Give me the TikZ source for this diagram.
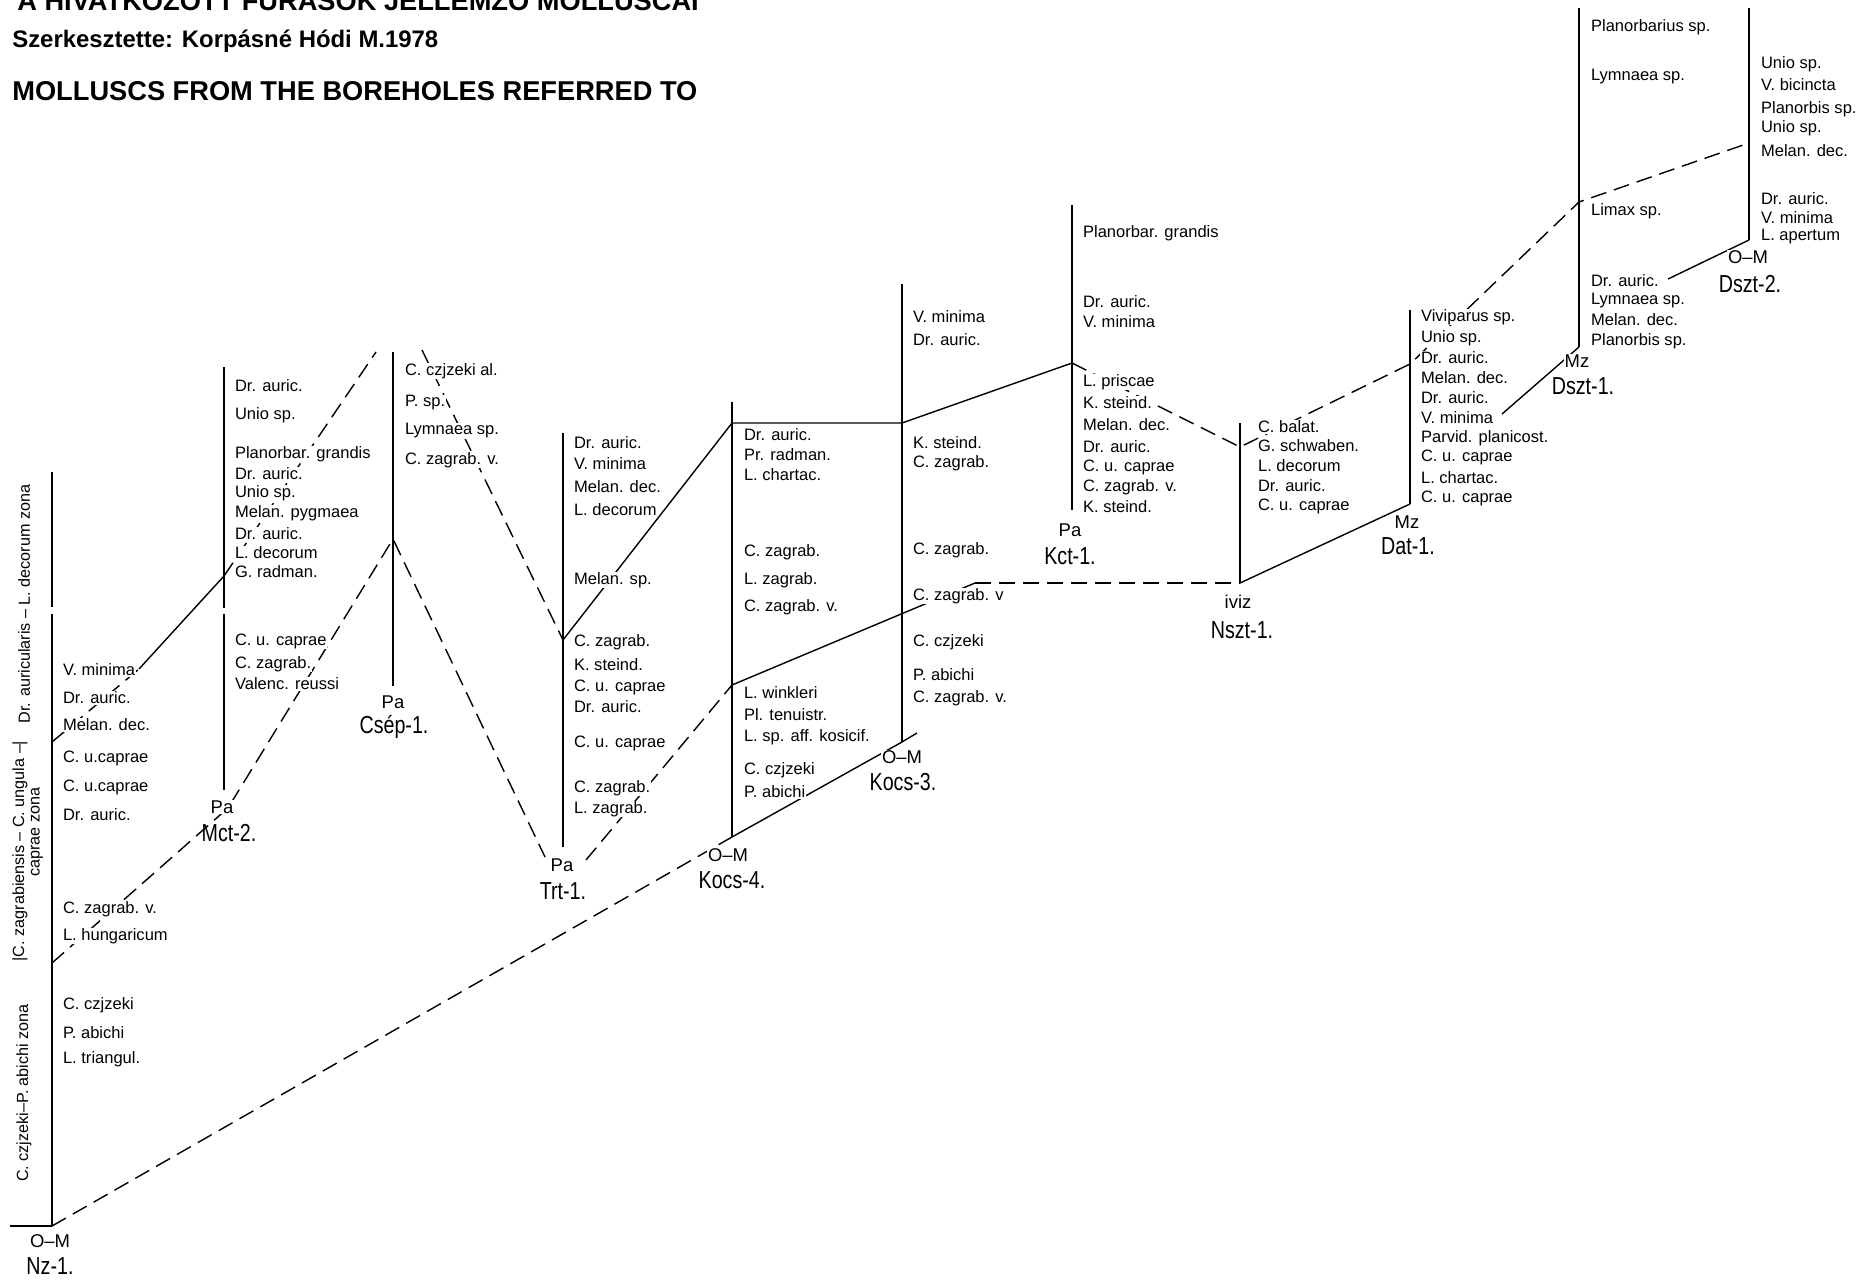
\documentclass[tikz,border=0pt]{standalone}
\usepackage{fontspec}
\setmainfont{Liberation Sans}
\newfontfamily\narrowfont[FakeStretch=0.8]{Liberation Sans}
\begin{document}
\begin{tikzpicture}[x=0.2mm,y=-0.2mm,
  bore/.style={line width=1.4pt},
  link/.style={line width=0.8pt},
  dlink/.style={line width=0.8pt,dash pattern=on 3.2mm off 1.6mm},
  taxon/.style={anchor=west,fill=white,inner sep=0.4pt,font=\fontsize{9.4}{10}\selectfont},
  stage/.style={fill=white,inner sep=0.4pt,font=\fontsize{10.5}{11}\selectfont},
  well/.style={inner sep=0.4pt,font=\narrowfont\fontsize{14}{15}\selectfont},
  zone/.style={rotate=90,inner sep=0pt,font=\fontsize{9.2}{10}\selectfont},
  title/.style={anchor=base west,inner sep=0pt,font=\bfseries\fontsize{15.5}{17}\selectfont}]
\fill[white] (0,0) rectangle (1858,1280);
\useasboundingbox (0,0) rectangle (1858,1280);

% headings
\node[title] (head1) at (17,10) {A HIVATKOZOTT FÚRÁSOK JELLEMZŐ MOLLUSCAI};
\node[title,font=\bfseries\fontsize{13.6}{14}\selectfont] (head2) at (12,47) {Szerkesztette: Korpásné Hódi M.1978};
\node[title] (head3) at (12,100) {MOLLUSCS FROM THE BOREHOLES REFERRED TO};

% borehole points
\coordinate (nz-top) at (52,472);
\coordinate (nz-g1) at (52,607);
\coordinate (nz-g2) at (52,614);
\coordinate (nz-bot) at (52,1226);
\coordinate (nz-b1) at (52,742);
\coordinate (nz-b2) at (52,963);
\coordinate (nz-vm) at (139,669);
\coordinate (nz-grd) at (10,1226);
\coordinate (mct-top) at (224,367);
\coordinate (mct-g1) at (224,608);
\coordinate (mct-g2) at (224,614);
\coordinate (mct-bot) at (224,790);
\coordinate (mct-a) at (224,576);
\coordinate (mct-k) at (228,808);
\coordinate (csep-top) at (393,352);
\coordinate (csep-bot) at (393,686);
\coordinate (csep-v) at (393,539);
\coordinate (csep-l) at (376,352);
\coordinate (csep-r) at (422,350);
\coordinate (trt-top) at (563,433);
\coordinate (trt-bot) at (563,847);
\coordinate (trt-v) at (563,640);
\coordinate (trt-l) at (545,857);
\coordinate (trt-r) at (586,860);
\coordinate (kcs4-top) at (732,402);
\coordinate (kcs4-bot) at (732,837);
\coordinate (kcs4-h) at (732,423);
\coordinate (kcs4-m) at (732,685);
\coordinate (kcs3-top) at (902,284);
\coordinate (kcs3-bot) at (902,742);
\coordinate (kcs3-h) at (902,423);
\coordinate (kcs3-k) at (975,583);
\coordinate (kcs3-end) at (917,733);
\coordinate (kct-top) at (1072,205);
\coordinate (kct-bot) at (1072,510);
\coordinate (kct-p) at (1072,363);
\coordinate (nszt-top) at (1240,423);
\coordinate (nszt-bot) at (1240,583);
\coordinate (nszt-p) at (1240,447);
\coordinate (dat-top) at (1410,310);
\coordinate (dat-bot) at (1410,504);
\coordinate (dat-p) at (1410,364);
\coordinate (dat-vm) at (1502,414);
\coordinate (dszt1-top) at (1579,8);
\coordinate (dszt1-bot) at (1579,347);
\coordinate (dszt1-p) at (1579,202);
\coordinate (dszt1-k) at (1668,279);
\coordinate (dszt2-top) at (1749,8);
\coordinate (dszt2-bot) at (1749,240);
\coordinate (dszt2-p) at (1749,143);

% boreholes
\draw[bore] (nz-top) -- (nz-g1) (nz-g2) -- (nz-bot);
\draw[link] (nz-grd) -- (nz-bot);
\draw[bore] (mct-top) -- (mct-g1) (mct-g2) -- (mct-bot);
\draw[bore] (csep-top) -- (csep-bot);
\draw[bore] (trt-top) -- (trt-bot);
\draw[bore] (kcs4-top) -- (kcs4-bot);
\draw[bore] (kcs3-top) -- (kcs3-bot);
\draw[bore] (kct-top) -- (kct-bot);
\draw[bore] (nszt-top) -- (nszt-bot);
\draw[bore] (dat-top) -- (dat-bot);
\draw[bore] (dszt1-top) -- (dszt1-bot);
\draw[bore] (dszt2-top) -- (dszt2-bot);

% correlation lines
\draw[dlink] (nz-b1) -- (nz-vm);
\draw[link] (nz-vm) -- (mct-a);
\draw[dlink] (mct-a) -- (csep-l);
\draw[dlink] (nz-b2) -- (mct-k) -- (csep-v) -- (trt-l);
\draw[dlink] (csep-r) -- (trt-v);
\draw[link] (trt-v) -- (kcs4-h) -- (kcs3-h) -- (kct-p);
\draw[dlink] (kct-p) -- (nszt-p) -- (dat-p) -- (dszt1-p) -- (dszt2-p);
\draw[dlink] (trt-r) -- (kcs4-m);
\draw[link] (kcs4-m) -- (kcs3-k);
\draw[dlink] (kcs3-k) -- (nszt-bot);
\draw[link] (nszt-bot) -- (dat-bot);
\draw[link] (dat-vm) -- (dszt1-bot);
\draw[link] (dszt1-k) -- (dszt2-bot);
\draw[dlink] (nz-bot) -- (kcs4-bot);
\draw[link] (kcs4-bot) -- (kcs3-bot) -- (kcs3-end);

% zones beside Nz-1
\node[zone] (z-czj) at (24,1093) {C. czjzeki–P. abichi zona};
\node[zone] (z-zag) at (20,851) {|C. zagrabiensis – C. ungula –|};
\node[zone] (z-cap) at (37,832) {caprae zona};
\node[zone] (z-aur) at (24,604) {Dr. auricularis – L. decorum zona};

% faunas
\foreach \y/\t [count=\i] in {670/V. minima,698/Dr. auric.,725/Melan. dec.,758/C. u.caprae,
  787/C. u.caprae,815/Dr. auric.,909/C. zagrab. v.,936/L. hungaricum,1005/C. czjzeki,
  1033/P. abichi,1059/L. triangul.}
  \node[taxon] (nz\i) at (62,\y) {\t};
\foreach \y/\t [count=\i] in {386/Dr. auric.,415/Unio sp.,454/Planorbar. grandis,474/Dr. auric.,
  493/Unio sp.,513/Melan. pygmaea,534/Dr. auric.,553/L. decorum,572/G. radman.,
  641/C. u. caprae,664/C. zagrab.,684/Valenc. reussi}
  \node[taxon] (mct\i) at (234,\y) {\t};
\foreach \y/\t [count=\i] in {371/C. czjzeki al.,403/P. sp.,431/Lymnaea sp.,460/C. zagrab. v.}
  \node[taxon] (csep\i) at (404,\y) {\t};
\foreach \y/\t [count=\i] in {443/Dr. auric.,464/V. minima,487/Melan. dec.,510/L. decorum,
  580/Melan. sp.,642/C. zagrab.,665/K. steind.,687/C. u. caprae,707/Dr. auric.,
  743/C. u. caprae,788/C. zagrab.,809/L. zagrab.}
  \node[taxon] (trt\i) at (573,\y) {\t};
\foreach \y/\t [count=\i] in {435/Dr. auric.,455/Pr. radman.,475/L. chartac.,552/C. zagrab.,
  580/L. zagrab.,607/C. zagrab. v.,693/L. winkleri,715/Pl. tenuistr.,737/L. sp. aff. kosicif.,
  770/C. czjzeki,792/P. abichi}
  \node[taxon] (kcs4\i) at (743,\y) {\t};
\foreach \y/\t [count=\i] in {317/V. minima,340/Dr. auric.,443/K. steind.,463/C. zagrab.,
  550/C. zagrab.,596/C. zagrab. v,642/C. czjzeki,675/P. abichi,698/C. zagrab. v.}
  \node[taxon] (kcs3\i) at (912,\y) {\t};
\foreach \y/\t [count=\i] in {233/Planorbar. grandis,302/Dr. auric.,322/V. minima,382/L. priscae,
  403/K. steind.,425/Melan. dec.,447/Dr. auric.,467/C. u. caprae,487/C. zagrab. v.,507/K. steind.}
  \node[taxon] (kct\i) at (1082,\y) {\t};
\foreach \y/\t [count=\i] in {427/C. balat.,446/G. schwaben.,466/L. decorum,486/Dr. auric.,
  506/C. u. caprae}
  \node[taxon] (nszt\i) at (1257,\y) {\t};
\foreach \y/\t [count=\i] in {317/Viviparus sp.,338/Unio sp.,358/Dr. auric.,378/Melan. dec.,
  398/Dr. auric.,418/V. minima,438/Parvid. planicost.,457/C. u. caprae,478/L. chartac.,
  498/C. u. caprae}
  \node[taxon] (dat\i) at (1420,\y) {\t};
\foreach \y/\t [count=\i] in {27/Planorbarius sp.,77/Lymnaea sp.,211/Limax sp.,281/Dr. auric.,
  301/Lymnaea sp.,320/Melan. dec.,341/Planorbis sp.}
  \node[taxon] (dszta\i) at (1590,\y) {\t};
\foreach \y/\t [count=\i] in {64/Unio sp.,85/V. bicincta,109/Planorbis sp.,128/Unio sp.,
  151/Melan. dec.,199/Dr. auric.,218/V. minima,237/L. apertum}
  \node[taxon] (dsztb\i) at (1760,\y) {\t};

% ages and well names
\node[stage] (nz-st) at (50,1241) {O–M};
\node[well] (nz-name) at (50,1266) {Nz-1.};
\node[stage] (mct-st) at (222,807) {Pa};
\node[well] (mct-name) at (229,833) {Mct-2.};
\node[stage] (csep-st) at (393,702) {Pa};
\node[well] (csep-name) at (394,727) {Csép-1.};
\node[stage] (trt-st) at (562,865) {Pa};
\node[well] (trt-name) at (563,891) {Trt-1.};
\node[stage] (kcs4-st) at (728,855) {O–M};
\node[well] (kcs4-name) at (732,880) {Kocs-4.};
\node[stage] (kcs3-st) at (902,757) {O–M};
\node[well] (kcs3-name) at (903,782) {Kocs-3.};
\node[stage] (kct-st) at (1070,530) {Pa};
\node[well] (kct-name) at (1070,556) {Kct-1.};
\node[stage] (nszt-st) at (1238,602) {iviz};
\node[well] (nszt-name) at (1242,630) {Nszt-1.};
\node[stage] (dat-st) at (1407,522) {Mz};
\node[well] (dat-name) at (1408,546) {Dat-1.};
\node[stage] (dszt1-st) at (1577,361) {Mz};
\node[well] (dszt1-name) at (1583,386) {Dszt-1.};
\node[stage] (dszt2-st) at (1748,257) {O–M};
\node[well] (dszt2-name) at (1750,284) {Dszt-2.};
\end{tikzpicture}
\end{document}
